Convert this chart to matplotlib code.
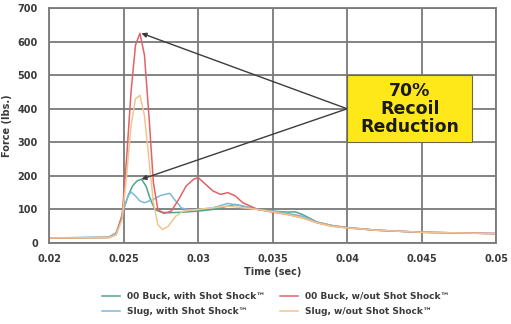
import numpy as np
from matplotlib import pyplot as plt
from matplotlib.patches import Rectangle

# series (time in sec, force in lbs.)
t_buck_out = [0.020, 0.0240, 0.0245, 0.0249, 0.0252, 0.0255, 0.0258, 0.0261, 0.0264, 0.0267,
              0.0270, 0.0273, 0.0277, 0.0282, 0.0287, 0.0292, 0.0297, 0.0300, 0.0305, 0.0310,
              0.0315, 0.0320, 0.0325, 0.0330, 0.0340, 0.0350, 0.0360, 0.0370, 0.0380, 0.0390,
              0.0400, 0.0420, 0.0450, 0.0500]
f_buck_out = [15, 16, 25, 80, 250, 450, 590, 625, 560, 380,
              180, 100, 88, 95, 130, 170, 190, 195, 175, 155,
              145, 150, 140, 120, 100, 92, 85, 75, 60, 50,
              45, 38, 32, 28]

t_slug_out = [0.020, 0.0240, 0.0245, 0.0249, 0.0252, 0.0255, 0.0258, 0.0261, 0.0264, 0.0267,
              0.0270, 0.0273, 0.0276, 0.0280, 0.0285, 0.0290, 0.0295, 0.0300, 0.0310, 0.0320,
              0.0330, 0.0340, 0.0350, 0.0360, 0.0370, 0.0380, 0.0390, 0.0400, 0.0420, 0.0450,
              0.0500]
f_slug_out = [15, 16, 25, 70, 200, 350, 430, 440, 380, 250,
              120, 55, 40, 50, 80, 95, 98, 100, 105, 110,
              105, 100, 93, 85, 75, 60, 50, 45, 38, 32,
              28]

t_buck_with = [0.020, 0.0240, 0.0245, 0.0248, 0.0250, 0.0253, 0.0256, 0.0259, 0.0262, 0.0265,
               0.0268, 0.0271, 0.0275, 0.0280, 0.0290, 0.0300, 0.0310, 0.0320, 0.0325, 0.0330,
               0.0340, 0.0350, 0.0360, 0.0365, 0.0370, 0.0380, 0.0390, 0.0400, 0.0420, 0.0450,
               0.0500]
f_buck_with = [15, 17, 30, 65, 100, 140, 170, 185, 190, 170,
               130, 100, 92, 90, 92, 95, 100, 110, 115, 110,
               100, 95, 92, 93, 85, 62, 52, 46, 38, 32,
               28]

t_slug_with = [0.020, 0.0240, 0.0245, 0.0248, 0.0250, 0.0253, 0.0255, 0.0258, 0.0261, 0.0264,
               0.0270, 0.0275, 0.0281, 0.0285, 0.0289, 0.0295, 0.0300, 0.0310, 0.0320, 0.0330,
               0.0340, 0.0350, 0.0360, 0.0370, 0.0380, 0.0390, 0.0400, 0.0420, 0.0450, 0.0500]
f_slug_with = [15, 17, 30, 70, 100, 140, 152, 140, 125, 120,
               130, 142, 148, 125, 104, 98, 100, 105, 118, 110,
               100, 95, 88, 80, 62, 52, 46, 38, 32, 28]

labels = ['00 Buck, with Shot Shock\u2122', 'Slug, with Shot Shock\u2122',
          '00 Buck, w/out Shot Shock\u2122', 'Slug, w/out Shot Shock\u2122']

peak_out = (0.0262, 625)
peak_with = (0.0262, 190)
callout_tip = (0.040, 400)

xticks = [0.02, 0.025, 0.03, 0.035, 0.04, 0.045, 0.05]
xtick_labels = ['0.02', '0.025', '0.03', '0.035', '0.04', '0.045', '0.05']
yticks = [0, 100, 200, 300, 400, 500, 600, 700]

fig = plt.figure(figsize=(5.11, 3.24), dpi=100)
ax = fig.add_axes([0.096, 0.25, 0.875, 0.725])

txt = '#3a3a3a'
ax.set_xlim(0.02, 0.05)
ax.set_ylim(0, 700)
ax.set_xticks(xticks)
ax.set_xticklabels(xtick_labels)
ax.set_yticks(yticks)
ax.tick_params(labelsize=7, colors=txt, length=0, pad=8)
for lab in ax.get_xticklabels() + ax.get_yticklabels():
    lab.set_fontweight('bold')
ax.grid(True, color='#7a7a7a', linewidth=1.3)
ax.set_axisbelow(True)
for s in ax.spines.values():
    s.set_color('#7a7a7a')
    s.set_linewidth(1.3)

l1, = ax.plot(t_buck_with, f_buck_with, color='#4fa58c', lw=1.1)
l2, = ax.plot(t_slug_with, f_slug_with, color='#7db9d6', lw=1.1)
l3, = ax.plot(t_buck_out, f_buck_out, color='#e0626a', lw=1.1)
l4, = ax.plot(t_slug_out, f_slug_out, color='#f2c58e', lw=1.1)

ax.set_xlabel('Time (sec)', fontsize=7, fontweight='bold', color=txt, labelpad=2)
ax.set_ylabel('Force (lbs.)', fontsize=7, fontweight='bold', color=txt, labelpad=4)

# callout box and pointers
ax.add_patch(Rectangle((0.040, 300), 0.0084, 200, facecolor='#ffe81a',
                       edgecolor='#6b6b40', lw=0.8, zorder=5))
ax.text(0.0442, 400, '70%\nRecoil\nReduction', ha='center', va='center',
        fontsize=12.5, fontweight='heavy', color='#1a1a1a', linespacing=1.0, zorder=6)
for tip in (peak_out, peak_with):
    ax.annotate('', xy=tip, xytext=callout_tip, zorder=4,
                arrowprops=dict(arrowstyle='-|>', color='#3c3c3c', lw=1.0,
                                mutation_scale=7, shrinkA=0, shrinkB=0))

fig.legend([l1, l2, l3, l4], labels, ncol=2, loc='lower center',
           bbox_to_anchor=(0.54, 0.0), frameon=False,
           handlelength=2.0, columnspacing=1.6, labelspacing=0.6,
           prop={'weight': 'bold', 'size': 6.5}, labelcolor=txt)

fig.savefig('out.png', dpi=100)
